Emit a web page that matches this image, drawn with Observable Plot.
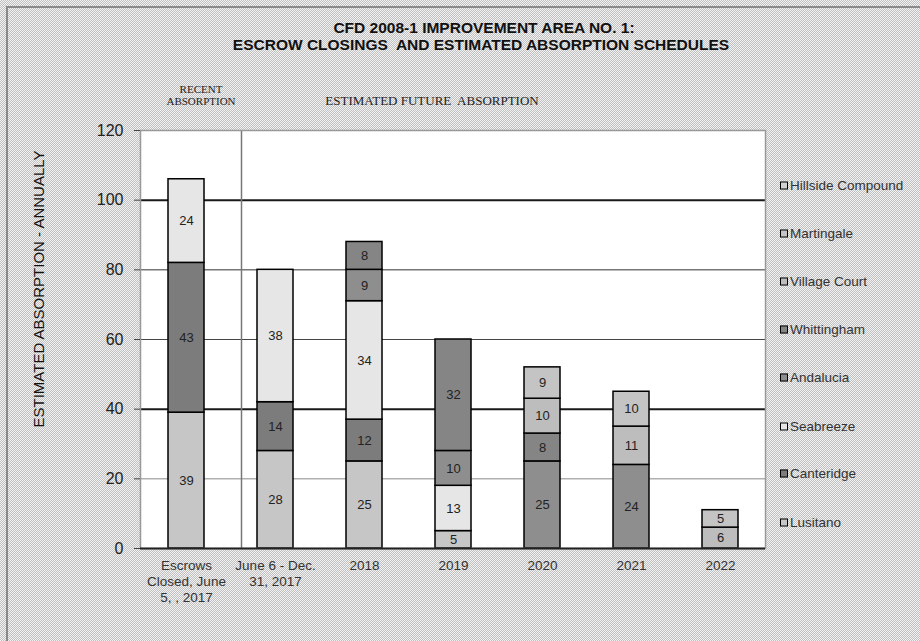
<!DOCTYPE html>
<html><head><meta charset="utf-8">
<script src="https://cdn.jsdelivr.net/npm/d3@7"></script>
<script src="https://cdn.jsdelivr.net/npm/@observablehq/plot@0.6"></script>
<style>
body{margin:0;background:#fff;}
#wrap{position:relative;width:920px;height:641px;overflow:hidden;background-color:#dadada;background-image:repeating-conic-gradient(#c0c0c0 0% 25%, #f2f2f2 0% 50%);background-size:2px 2px;font-family:"Liberation Sans",Arial,sans-serif;color:#222;}
#border{position:absolute;left:6px;top:6px;width:930px;height:650px;border-top:2px solid #8a8a8a;border-left:2px solid #8a8a8a;}
#chart{position:absolute;left:0;top:0;}
.t{position:absolute;white-space:nowrap;transform:translate(-50%,-50%);}
.title{font-weight:bold;font-size:15.5px;color:#111;}
.serif{font-family:"Liberation Serif","Times New Roman",serif;color:#222;}
.leg{position:absolute;left:780px;font-size:13.5px;color:#333;white-space:nowrap;transform:translateY(-50%);display:flex;align-items:center;}
.leg span.sw{display:inline-block;width:6px;height:6px;border:1.5px solid #000;margin-right:2px;}
#ylab{position:absolute;left:38px;top:289px;transform:translate(-50%,-50%) rotate(-90deg);font-size:15px;white-space:nowrap;color:#111;}
</style>
</head><body>
<div id="wrap">
  <div id="border"></div>
  <div id="chart"></div>
  <div class="t title" style="left:484px;top:28px;">CFD 2008-1 IMPROVEMENT AREA NO. 1:</div>
  <div class="t title" style="left:481px;top:45px;">ESCROW CLOSINGS&nbsp; AND ESTIMATED ABSORPTION SCHEDULES</div>
  <div class="t serif" style="left:201px;top:89px;font-size:11px;">RECENT</div>
  <div class="t serif" style="left:201px;top:101px;font-size:11px;">ABSORPTION</div>
  <div class="t serif" style="left:432px;top:101px;font-size:13px;">ESTIMATED FUTURE&nbsp; ABSORPTION</div>
  <div id="ylab">ESTIMATED ABSORPTION - ANNUALLY</div>
  <div id="legend"></div>
</div>
<script>
// ---- data ----
const categories = ["Escrows\nClosed, June\n5, , 2017", "June 6 - Dec.\n31, 2017", "2018", "2019", "2020", "2021", "2022"];
const seriesNames = ["Lusitano", "Canteridge", "Seabreeze", "Andalucia", "Whittingham", "Village Court", "Martingale", "Hillside Compound"];
const lusitano     = [39, 28, 25, 5, 0, 0, 0];
const canteridge   = [43, 14, 12, 0, 0, 0, 0];
const seabreeze    = [24, 38, 34, 13, 0, 0, 0];
const andalucia    = [0, 0, 9, 10, 25, 24, 0];
const whittingham  = [0, 0, 8, 32, 8, 0, 0];
const villageCourt = [0, 0, 0, 0, 10, 11, 6];
const martingale   = [0, 0, 0, 0, 9, 10, 5];
const hillside     = [0, 0, 0, 0, 0, 0, 0];
const yTicks = [0, 20, 40, 60, 80, 100, 120];
const seriesColors = ["#c6c6c6", "#7c7c7c", "#e6e6e6", "#8e8e8e", "#858585", "#bdbdbd", "#c4c4c4", "#d2d2d2"];

const seriesValues = [lusitano, canteridge, seabreeze, andalucia, whittingham, villageCourt, martingale, hillside];
const rows = [];
seriesValues.forEach((vals, si) => vals.forEach((v, ci) => {
  if (v > 0) rows.push({cat: categories[ci], series: seriesNames[si], value: v});
}));

const chart = Plot.plot({
  width: 920, height: 641,
  marginLeft: 140, marginRight: 155, marginTop: 130, marginBottom: 93,
  style: {background: "transparent", fontFamily: "Liberation Sans, Arial, sans-serif", color: "#222"},
  x: {domain: categories, type: "band", paddingInner: 0.6, paddingOuter: 0.3},
  y: {domain: [0, 120]},
  color: {domain: seriesNames, range: seriesColors},
  marks: [
    Plot.frame({fill: "white", stroke: "none"}),
    Plot.ruleY([100, 40], {stroke: "#1a1a1a", strokeWidth: 2}),
    Plot.ruleY([80], {stroke: "#777", strokeWidth: 1.5}),
    Plot.ruleY([60], {stroke: "#444", strokeWidth: 1}),
    Plot.ruleY([20], {stroke: "#888", strokeWidth: 1}),
    Plot.ruleX([categories[1]], {dx: -34, stroke: "#777", strokeWidth: 1.5}),
    Plot.barY(rows, {x: "cat", y: "value", fill: "series", z: "series", order: seriesNames, stroke: "#000", strokeWidth: 1.5}),
    Plot.text(rows, Plot.stackY({x: "cat", y: "value", z: "series", order: seriesNames, text: d => String(d.value), fontSize: 13, fill: "#222"})),
    Plot.frame({stroke: "#999", strokeWidth: 1.5}),
    Plot.ruleY([0], {stroke: "#222", strokeWidth: 2}),
    Plot.axisY({ticks: yTicks, tickSize: 6, tickPadding: 11, fontSize: 16, label: null, stroke: "#444"}),
    Plot.axisX({tickSize: 0, tickPadding: 10, fontSize: 13.5, label: null, lineHeight: 1.18, fill: "#333"})
  ]
});
document.getElementById("chart").appendChild(chart);

// legend (top to bottom = reverse stack order)
const legendY = [185, 233, 281, 329, 377, 426, 473, 522];
const legend = document.getElementById("legend");
seriesNames.slice().reverse().forEach((name, i) => {
  const div = document.createElement("div");
  div.className = "leg";
  div.style.top = legendY[i] + "px";
  const sw = document.createElement("span");
  sw.className = "sw";
  sw.style.background = seriesColors[seriesNames.indexOf(name)];
  div.appendChild(sw);
  div.appendChild(document.createTextNode(name));
  legend.appendChild(div);
});
</script>
</body></html>
